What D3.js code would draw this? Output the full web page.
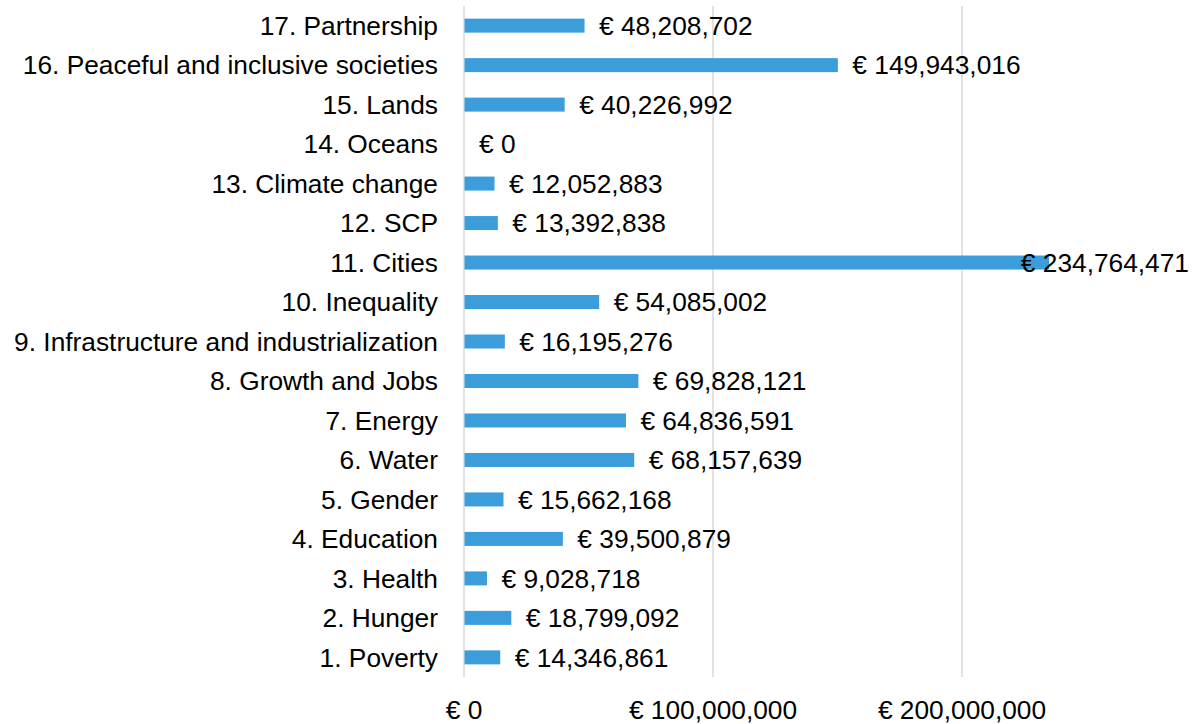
<!DOCTYPE html>
<html>
<head>
<meta charset="utf-8">
<script src="https://cdn.jsdelivr.net/npm/d3@7"></script>
<style>
    body { margin: 0; background: #fff; }
    svg { display: block; font-family: "Liberation Sans", Arial, sans-serif; }
</style>
</head>
<body>
<svg id="chart" width="1200" height="724"></svg>
<script>
// SDG categories, bottom to top as in the picture
const categories = [
    '1. Poverty', '2. Hunger', '3. Health', '4. Education', '5. Gender',
    '6. Water', '7. Energy', '8. Growth and Jobs',
    '9. Infrastructure and industrialization', '10. Inequality', '11. Cities',
    '12. SCP', '13. Climate change', '14. Oceans', '15. Lands',
    '16. Peaceful and inclusive societies', '17. Partnership'
];
const amounts = [
    14346861, 18799092, 9028718, 39500879, 15662168,
    68157639, 64836591, 69828121,
    16195276, 54085002, 234764471,
    13392838, 12052883, 0, 40226992,
    149943016, 48208702
];
const tickValues = [0, 100000000, 200000000];

const width = 1200;
const fontSize = 26.3;
const margin = {top: 6, left: 464, bottom: 47};
const plotBottom = 724 - margin.bottom;

const svg = d3.select('#chart');
const fmt = d3.format(',');
const euro = v => '€ ' + fmt(v);

const x = d3.scaleLinear()
    .domain([0, 300000000])
    .range([margin.left, margin.left + 747]);

// top of the chart is the last category
const y = d3.scaleBand()
    .domain(categories.slice().reverse())
    .range([margin.top, plotBottom])
    .paddingInner(0.645)
    .paddingOuter(0.32);

// vertical gridlines
svg.append('g')
    .selectAll('line')
    .data(tickValues)
    .join('line')
    .attr('x1', d => x(d))
    .attr('x2', d => x(d))
    .attr('y1', margin.top)
    .attr('y2', plotBottom)
    .attr('stroke', '#d9d9d9')
    .attr('stroke-width', 1.5);

const rows = categories.map((c, i) => ({cat: c, val: amounts[i]}));

svg.append('g')
    .selectAll('rect')
    .data(rows)
    .join('rect')
    .attr('x', x(0) + 0.5)
    .attr('y', d => y(d.cat))
    .attr('width', d => Math.max(0, x(d.val) - x(0)))
    .attr('height', y.bandwidth())
    .attr('fill', '#3c9ddb');

// category labels
svg.append('g')
    .selectAll('text')
    .data(rows)
    .join('text')
    .attr('x', margin.left - 26)
    .attr('y', d => y(d.cat) + y.bandwidth() / 2)
    .attr('dy', '0.35em')
    .attr('text-anchor', 'end')
    .attr('font-size', fontSize)
    .attr('fill', '#000')
    .text(d => d.cat);

// value labels, pushed back inside when they would run off the edge
const valueLabels = svg.append('g')
    .selectAll('text')
    .data(rows)
    .join('text')
    .attr('y', d => y(d.cat) + y.bandwidth() / 2)
    .attr('dy', '0.35em')
    .attr('font-size', fontSize)
    .attr('fill', '#000')
    .text(d => euro(d.val));

valueLabels.each(function (d) {
    const w = this.getComputedTextLength();
    const px = Math.min(x(d.val) + 15, width - 11 - w);
    d3.select(this).attr('x', px);
});

// x axis tick labels
svg.append('g')
    .selectAll('text')
    .data(tickValues)
    .join('text')
    .attr('x', d => x(d))
    .attr('y', 710)
    .attr('dy', '0.35em')
    .attr('text-anchor', 'middle')
    .attr('font-size', fontSize)
    .attr('fill', '#000')
    .text(d => euro(d));
</script>
</body>
</html>
